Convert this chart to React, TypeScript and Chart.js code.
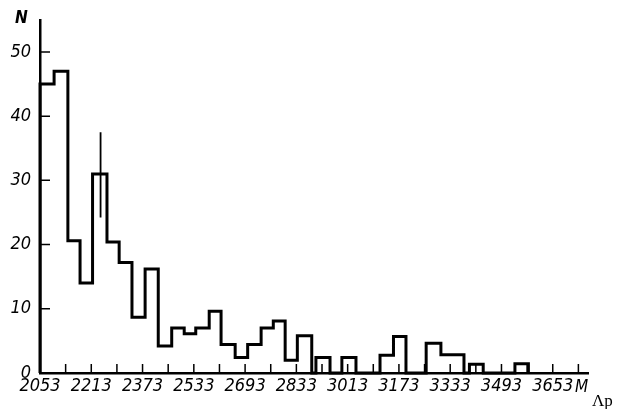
import React, { useEffect, useRef } from 'react';
import { Chart, registerables } from 'chart.js';

Chart.register(...registerables);

// Histogram bin edges (in MeV) and the counts of each bin
const binEdges = [2053, 2097, 2140, 2178, 2217, 2262, 2300, 2340, 2381, 2422, 2464, 2503, 2539, 2581, 2618, 2662, 2701, 2743, 2781, 2818, 2856, 2901, 2914, 2958, 2995, 3039, 3114, 3156, 3195, 3258, 3304, 3376, 3393, 3436, 3535, 3577];
const counts = [45, 47, 20.6, 14, 31, 20.4, 17.2, 8.7, 16.2, 4.2, 7, 6.1, 7, 9.6, 4.45, 2.4, 4.45, 7, 8.1, 2, 5.8, 0, 2.4, 0, 2.4, 0, 2.75, 5.7, 0, 4.65, 2.85, 0, 1.35, 0, 1.45];

// Error bar on the 2217-2262 bin
const errX = 2242;
const errLow = 24.2;
const errHigh = 37.5;

// Axis ticks
const xTickValues = [2053, 2213, 2373, 2533, 2693, 2853, 3013, 3173, 3333, 3493, 3653];
const xTickLabels = ['2053', '2213', '2373', '2533', '2693', '2833', '3013', '3173', '3333', '3493', '3653'];
const yTickValues = [0, 10, 20, 30, 40, 50];
const xMin = 2053;
const xMax = 3763;
const yMax = 55;
const minorStep = 80;

const labelFont = '"DejaVu Sans Condensed", "DejaVu Sans", sans-serif';

const decorPlugin = {
  id: 'decor',
  afterDraw(chart: any) {
    const { ctx, chartArea, scales } = chart;
    const xs = scales.x;
    const ys = scales.y;
    ctx.save();
    ctx.strokeStyle = '#000';
    ctx.lineWidth = 1.5;
    ctx.beginPath();
    for (let v = xMin + minorStep; v <= xMax; v += minorStep) {
      const px = xs.getPixelForValue(v);
      ctx.moveTo(px, chartArea.bottom);
      ctx.lineTo(px, chartArea.bottom - 9);
    }
    for (const v of yTickValues) {
      if (v === 0) continue;
      const py = ys.getPixelForValue(v);
      ctx.moveTo(chartArea.left, py);
      ctx.lineTo(chartArea.left + 10, py);
    }
    ctx.stroke();

    ctx.fillStyle = '#000';
    ctx.textBaseline = 'alphabetic';
    ctx.textAlign = 'left';
    ctx.font = `italic bold 17px ${labelFont}`;
    ctx.fillText('N', 15, 23);
    ctx.font = `italic 17px ${labelFont}`;
    ctx.fillText('M', 575, 392);
    ctx.font = '17px "Liberation Serif"';
    ctx.fillText('Λp', 592, 406);
    ctx.restore();
  },
};

export default function App() {
  const canvasRef = useRef<HTMLCanvasElement | null>(null);

  useEffect(() => {
    const canvas = canvasRef.current;
    if (!canvas) return;
    const histPoints: { x: number; y: number }[] = [{ x: binEdges[0], y: 0 }];
    counts.forEach((c, i) => histPoints.push({ x: binEdges[i], y: c }));
    histPoints.push({ x: binEdges[binEdges.length - 1], y: 0 });

    const chart = new Chart(canvas, {
      type: 'line',
      data: {
        datasets: [
          {
            data: histPoints,
            stepped: 'before',
            borderColor: '#000',
            borderWidth: 3,
            pointRadius: 0,
            fill: false,
            borderJoinStyle: 'miter',
            borderCapStyle: 'butt',
            clip: false,
          } as any,
          {
            data: [
              { x: errX, y: errLow },
              { x: errX, y: errHigh },
            ],
            borderColor: '#000',
            borderWidth: 1.8,
            pointRadius: 0,
            fill: false,
          } as any,
        ],
      },
      options: {
        responsive: false,
        animation: false,
        layout: { padding: { left: 0, top: 17, right: 41, bottom: 0 } },
        plugins: { legend: { display: false }, tooltip: { enabled: false }, title: { display: false } },
        scales: {
          x: {
            type: 'linear',
            min: xMin,
            max: xMax,
            afterFit: (s: any) => {
              s.height = 36;
            },
            afterBuildTicks: (s: any) => {
              s.ticks = xTickValues.map((v) => ({ value: v }));
            },
            grid: { display: true, color: 'rgba(0,0,0,0)', drawTicks: false },
            border: { display: true, color: '#000', width: 2.5 },
            ticks: {
              padding: 3,
              maxRotation: 0,
              autoSkip: false,
              color: '#000',
              font: { family: labelFont, size: 18, style: 'italic' },
              callback: (v: any) => {
                const i = xTickValues.indexOf(Number(v));
                return i >= 0 ? xTickLabels[i] : '';
              },
            },
          },
          y: {
            type: 'linear',
            min: 0,
            max: yMax,
            afterFit: (s: any) => {
              s.width = 40;
            },
            afterBuildTicks: (s: any) => {
              s.ticks = yTickValues.map((v) => ({ value: v }));
            },
            grid: { display: true, color: 'rgba(0,0,0,0)', drawTicks: false },
            border: { display: true, color: '#000', width: 2.5 },
            ticks: {
              padding: 9,
              color: '#000',
              font: { family: labelFont, size: 18, style: 'italic' },
              callback: (v: any) => String(v),
            },
          },
        },
      } as any,
      plugins: [decorPlugin],
    });
    return () => chart.destroy();
  }, []);

  return (
    <div style={{ position: 'absolute', left: 0, top: 0, width: 629, height: 409, background: '#fff' }}>
      <canvas ref={canvasRef} width={629} height={409} style={{ display: 'block', width: 629, height: 409 }} />
    </div>
  );
}
